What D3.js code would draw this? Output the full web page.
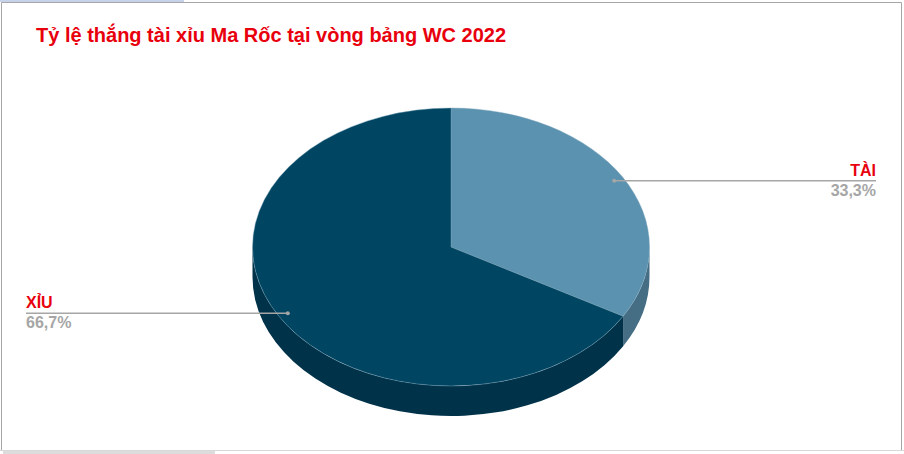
<!DOCTYPE html>
<html>
<head>
<meta charset="utf-8">
<script src="https://cdn.jsdelivr.net/npm/d3@7"></script>
<style>
  html, body { margin: 0; padding: 0; background: #fff; overflow: hidden; }
  text { font-family: "Liberation Sans", Arial, sans-serif; font-weight: bold; }
</style>
</head>
<body>
<div id="chart"></div>
<script>
var titleText = 'Tỷ lệ thắng tài xỉu Ma Rốc tại vòng bảng WC 2022';
var categories = ['TÀI', 'XỈU'];
var values = [33.3, 66.7];
var valueLabels = ['33,3%', '66,7%'];

var topColors = ['#5b92b0', '#004562'];
var sideColors = ['#456e85', '#00324a'];

var width = 904, height = 454;
var cx = 451, cy = 247, rx = 198.5, ry = 139, depth = 30;

var svg = d3.select('#chart').append('svg')
    .attr('width', width)
    .attr('height', height)
    .style('display', 'block');

// bits of the spreadsheet window around the chart
svg.append('rect')
   .attr('x', 0).attr('y', 0)
   .attr('width', 184).attr('height', 2)
   .attr('fill', '#c6d3ea');

svg.append('rect')
   .attr('x', 3).attr('y', 451)
   .attr('width', 212).attr('height', 3)
   .attr('fill', '#dcdcdc');

// chart frame, lighter along the bottom
svg.append('rect')
   .attr('x', 0).attr('y', 450)
   .attr('width', width).attr('height', 1)
   .attr('fill', '#d9d9d9');

svg.append('path')
   .attr('d', 'M1.5,450V2.5H901.5V450')
   .attr('fill', 'none')
   .attr('stroke', '#a6a6a6')
   .attr('stroke-width', 1);

svg.append('text')
   .attr('x', 36)
   .attr('y', 42)
   .attr('fill', '#e8000d')
   .style('font-size', '20px')
   .text(titleText);

var pie = d3.pie().sort(null).value(d => d);
var slices = pie(values);

// angle is measured clockwise from the top, as d3.arc does
function px(a) { return cx + rx * Math.sin(a); }
function py(a) { return cy - ry * Math.cos(a); }

function wallPath(a0, a1) {
    var p = `M${px(a0)},${py(a0)}`;
    p += `A${rx},${ry} 0 0 1 ${px(a1)},${py(a1)}`;
    p += `L${px(a1)},${py(a1) + depth}`;
    p += `A${rx},${ry} 0 0 0 ${px(a0)},${py(a0) + depth}`;
    return p + 'Z';
}

// only the front half of the rim can be seen
var front = [Math.PI / 2, 3 * Math.PI / 2];

svg.selectAll('.wall')
   .data(slices)
   .enter()
   .append('path')
   .attr('class', 'wall')
   .attr('fill', (d, i) => sideColors[i])
   .attr('d', d => wallPath(Math.max(d.startAngle, front[0]), Math.min(d.endAngle, front[1])));

var arc = d3.arc().innerRadius(0).outerRadius(rx);

svg.append('g')
   .attr('transform', `translate(${cx},${cy}) scale(1,${ry / rx})`)
   .selectAll('path')
   .data(slices)
   .enter()
   .append('path')
   .attr('d', arc)
   .attr('fill', (d, i) => topColors[i])
   .attr('stroke', '#7fa6bb')
   .attr('stroke-width', 0.5);

// leader lines start at the middle of each slice, just inside the rim
var leaderScale = 0.95;
var labelEdge = [876, 26];

var labels = svg.selectAll('.label')
    .data(slices)
    .enter()
    .append('g')
    .attr('class', 'label');

function dotX(d) { return cx + rx * leaderScale * Math.sin((d.startAngle + d.endAngle) / 2); }
function dotY(d) { return cy - ry * leaderScale * Math.cos((d.startAngle + d.endAngle) / 2); }

labels.append('line')
   .attr('x1', dotX)
   .attr('y1', dotY)
   .attr('x2', (d, i) => labelEdge[i])
   .attr('y2', dotY)
   .attr('stroke', '#a6a6a6')
   .attr('stroke-width', 1.5);

labels.append('circle')
   .attr('cx', dotX)
   .attr('cy', dotY)
   .attr('r', 2)
   .attr('fill', '#a6a6a6');

labels.append('text')
   .attr('x', (d, i) => labelEdge[i])
   .attr('y', d => dotY(d) - 5)
   .attr('text-anchor', (d, i) => i === 0 ? 'end' : 'start')
   .attr('fill', '#e8000d')
   .style('font-size', '16px')
   .text((d, i) => categories[i]);

labels.append('text')
   .attr('x', (d, i) => labelEdge[i])
   .attr('y', d => dotY(d) + 15)
   .attr('text-anchor', (d, i) => i === 0 ? 'end' : 'start')
   .attr('fill', '#a6a6a6')
   .style('font-size', '16px')
   .text((d, i) => valueLabels[i]);
</script>
</body>
</html>
